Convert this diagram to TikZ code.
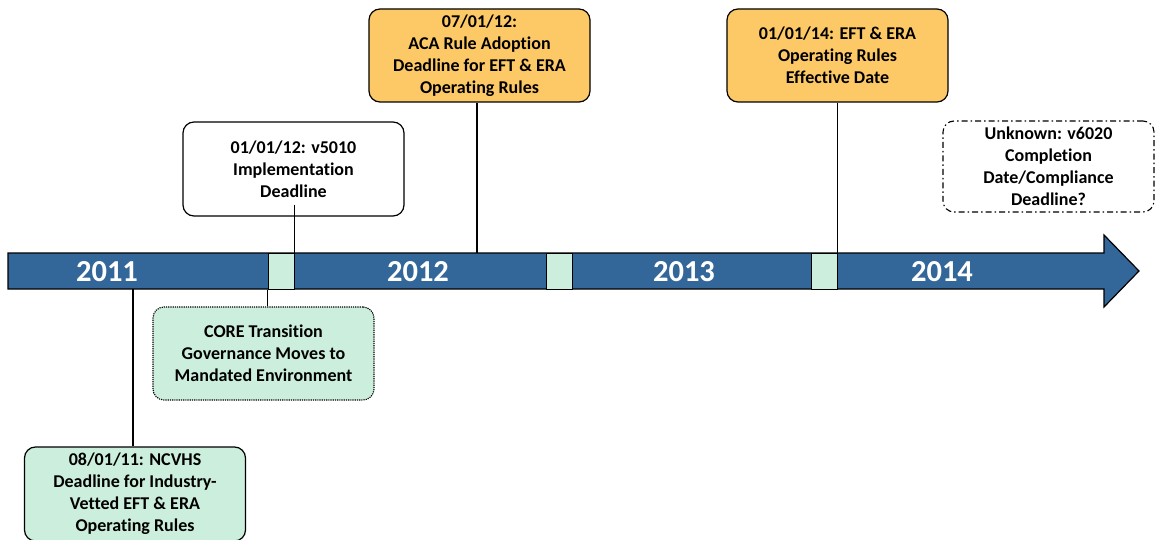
\documentclass[tikz,border=0pt]{standalone}
\usepackage{fontspec}
\setmainfont{Carlito}[Ligatures=NoCommon,RawFeature={-liga;-dlig}]
\begin{document}
\begin{tikzpicture}[x=1pt,y=-1pt,
  box/.style={draw=black,line width=1.2pt,rounded corners=11pt,align=center,
    font=\bfseries\fontsize{18}{22}\selectfont,inner sep=0pt,minimum width=221pt,minimum height=93pt},
  year/.style={text=white,font=\bfseries\fontsize{30.5}{31}\selectfont},
  sq/.style={draw=black,line width=1pt,fill=greenfill,minimum width=26pt,minimum height=36pt,inner sep=0pt},
  conn/.style={line width=1.3pt}]
\definecolor{barblue}{RGB}{51,102,153}
\definecolor{greenfill}{RGB}{204,238,221}
\definecolor{orangefill}{RGB}{253,201,102}
\useasboundingbox (0,0) rectangle (1156,540);
% timeline arrow
\draw[line width=1.2pt,fill=barblue] (8,253) -- (1104,253) -- (1104,235) -- (1139,271) -- (1104,307) -- (1104,289) -- (8,289) -- cycle;
\node[year] (y11) at (107,272) {2011};
\node[year] (y12) at (418,272) {2012};
\node[year] (y13) at (684,272) {2013};
\node[year] (y14) at (942,272) {2014};
\node[sq] (s1) at (281,271) {};
\node[sq] (s2) at (559.5,271) {};
\node[sq] (s3) at (824,271) {};
\coordinate (b1) at (133,289);
\coordinate (b2) at (477,253);
% boxes
\node[box,fill=white,minimum height=94pt] (v5010) at (293.5,169)
  {01/01/12: v5010\\Implementation\\Deadline};
\node[box,fill=orangefill] (aca) at (479.5,55.5)
  {07/01/12:\\ACA Rule Adoption\\Deadline for EFT \& ERA\\Operating Rules};
\node[box,fill=orangefill] (eft) at (837.5,55.5)
  {01/01/14: EFT \& ERA\\Operating Rules\\Effective Date};
\node[box,fill=white,dash pattern=on 6pt off 3pt on 1.5pt off 3pt,line width=1.1pt,minimum width=211pt,minimum height=91pt] (unk) at (1048.5,166.5)
  {Unknown: v6020\\Completion\\Date/Compliance\\Deadline?};
\node[box,fill=greenfill,densely dotted,line width=1.1pt] (core) at (263.5,353.5)
  {CORE Transition\\Governance Moves to\\Mandated Environment};
\node[box,fill=greenfill,minimum height=94pt] (ncvhs) at (135,494)
  {08/01/11: NCVHS\\Deadline for Industry-\\Vetted EFT \& ERA\\Operating Rules};
% connectors
\draw[conn] ([yshift=12pt]v5010.south -| s1.east) -- (s1.north east);
\draw[conn] (aca.south -| b2) -- (b2);
\draw[conn] (eft.south -| s3.north east) -- (s3.north east);
\draw[conn] (s1.south west) -- (core.north -| s1.south west);
\draw[conn] (b1) -- (ncvhs.north -| b1);
\end{tikzpicture}
\end{document}
